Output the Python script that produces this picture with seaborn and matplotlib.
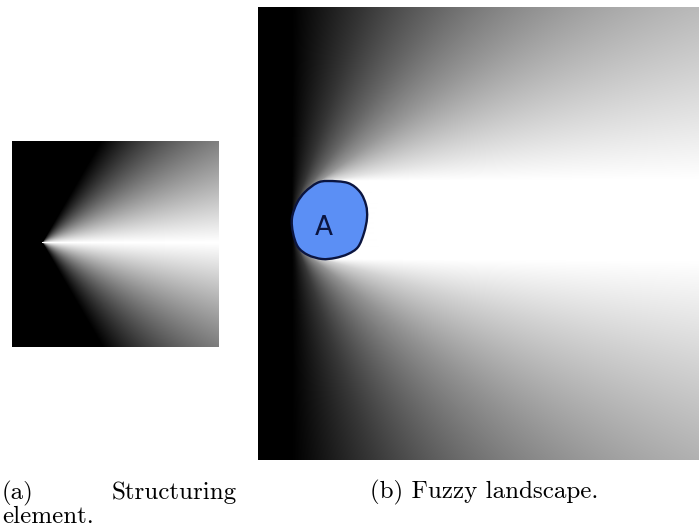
import numpy as np
import seaborn as sns
import matplotlib
matplotlib.use('Agg')
import matplotlib.pyplot as plt
from matplotlib.patches import PathPatch
from matplotlib.path import Path

# Structuring element (a): grid size, apex and cone half-opening (degrees)
se_rows, se_cols = 206, 207
se_apex_row, se_apex_col = 101, 30
se_opening = 60

# Fuzzy landscape (b): grid size and cone half-opening (degrees)
land_rows, land_cols = 453, 441
land_opening = 90

# Outline of object A, in landscape pixel coordinates
blob_x = [70, 90, 102, 108, 109, 106, 100, 90, 77, 64, 50, 40, 35, 34, 39, 47, 59]
blob_y = [174, 176, 185, 198, 211, 226, 240, 247, 251, 252, 248, 240, 226, 211, 196, 185, 176]

blob_face = '#5b8ff5'
blob_edge = '#0b1540'

plt.rcParams['axes.unicode_minus'] = False

# Structuring element
rr, cc = np.mgrid[0:se_rows, 0:se_cols]
theta = np.degrees(np.abs(np.arctan2(-(rr - se_apex_row), cc - se_apex_col)))
se = np.clip(1 - theta / se_opening, 0, 1)

# Fuzzy landscape: dilation of A by the structuring element
px = np.array(blob_x + blob_x[:1], dtype=float)
py = np.array(blob_y + blob_y[:1], dtype=float)
t = np.linspace(0, 1, 12, endpoint=False)
qx = np.concatenate([px[i] + t * (px[i + 1] - px[i]) for i in range(len(blob_x))])
qy = np.concatenate([py[i] + t * (py[i + 1] - py[i]) for i in range(len(blob_x))])

lr, lc = np.mgrid[0:land_rows, 0:land_cols]
lr = lr + 0.5
lc = lc + 0.5
theta_min = np.full(lr.shape, 180.0)
for x0, y0 in zip(qx, qy):
    th = np.degrees(np.abs(np.arctan2(-(lr - y0), lc - x0)))
    np.minimum(theta_min, th, out=theta_min)
land = np.clip(1 - theta_min / land_opening, 0, 1)


def smooth_outline(xs, ys):
    # closed bezier path through the outline points (catmull-rom handles)
    pts = np.column_stack([xs, ys]).astype(float)
    n = len(pts)
    verts = [pts[0]]
    codes = [Path.MOVETO]
    for i in range(n):
        p0, p1, p2, p3 = pts[i - 1], pts[i], pts[(i + 1) % n], pts[(i + 2) % n]
        verts += [p1 + (p2 - p0) / 6, p2 - (p3 - p1) / 6, p2]
        codes += [Path.CURVE4] * 3
    return Path(verts, codes)


fig = plt.figure(figsize=(6.99, 5.29), dpi=100)
W, H = 699, 529

ax1 = fig.add_axes([12 / W, 1 - 347 / H, 207 / W, 206 / H])
sns.heatmap(se, ax=ax1, cmap='gray', vmin=0, vmax=1, cbar=False,
            xticklabels=False, yticklabels=False, rasterized=True)
ax1.axis('off')

ax2 = fig.add_axes([258 / W, 1 - 460 / H, 441 / W, 453 / H])
sns.heatmap(land, ax=ax2, cmap='gray', vmin=0, vmax=1, cbar=False,
            xticklabels=False, yticklabels=False, rasterized=True)
ax2.axis('off')

ax2.add_patch(PathPatch(smooth_outline(blob_x, blob_y), facecolor=blob_face,
                        edgecolor=blob_edge, linewidth=1.7))
ax2.text(66, 221, 'A', color=blob_edge, fontsize=19, ha='center', va='center',
         family='DejaVu Sans', fontweight='medium')

cap = dict(fontsize=18, family='cmr10', va='baseline', color='black')
fig.text(2 / W, 1 - 499 / H, '(a)', ha='left', **cap)
fig.text(237 / W, 1 - 499 / H, 'Structuring', ha='right', **cap)
fig.text(2 / W, 1 - 523 / H, 'element.', ha='left', **cap)
fig.text(370 / W, 1 - 498 / H, '(b) Fuzzy landscape.', ha='left', **cap)

fig.savefig('out.png', dpi=100)
